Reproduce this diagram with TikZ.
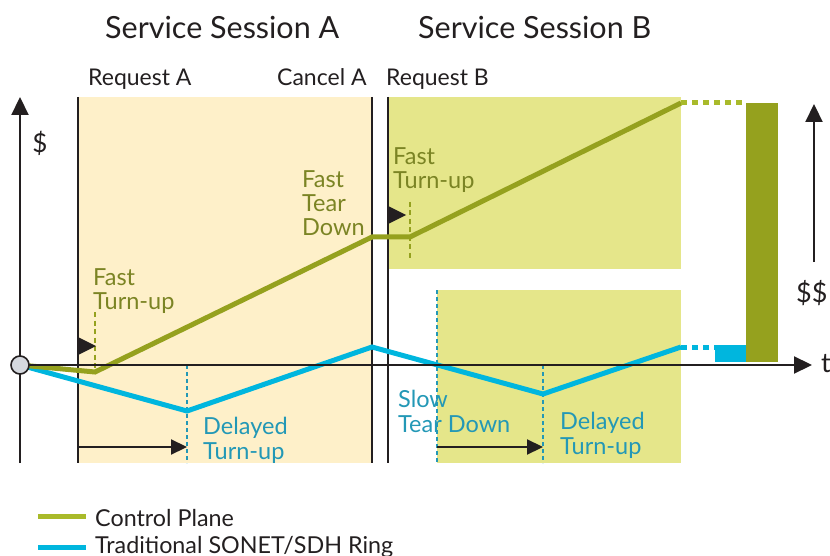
\documentclass[tikz,border=0pt]{standalone}
\usepackage{fontspec}
\setmainfont{Lato}
\usetikzlibrary{arrows.meta}

\definecolor{sessionA}{HTML}{FEF0C9}
\definecolor{sessionB}{HTML}{E5E68A}
\definecolor{cpline}{HTML}{95A11E}
\definecolor{cpdot}{HTML}{A9BA2A}
\definecolor{cptext}{HTML}{7B8424}
\definecolor{ringline}{HTML}{00B6DE}
\definecolor{ringtext}{HTML}{2398B6}
\definecolor{axisgray}{HTML}{231F20}
\definecolor{dotfill}{HTML}{D5D8DE}

\tikzset{
  axisline/.style={draw=axisgray, line width=2.2pt},
  eventline/.style={draw=axisgray, line width=2pt},
  bigtip/.style={-{Triangle[length=18pt,width=17pt]}},
  midtip/.style={-{Triangle[length=16pt,width=15pt]}},
  cpcurve/.style={draw=cpline, line width=5pt, line join=miter},
  ringcurve/.style={draw=ringline, line width=5pt, line join=miter},
  cpmark/.style={draw=cpline, line width=2.2pt, dash pattern=on 5pt off 3.5pt},
  ringmark/.style={draw=ringtext, line width=2.6pt, dash pattern=on 4pt off 3pt},
  title/.style={font=\fontsize{30.5}{34}\selectfont, text=axisgray, inner sep=0pt, anchor=base west},
  eventlabel/.style={font=\fontsize{23}{27}\selectfont, text=axisgray, inner sep=0pt, anchor=base west},
  cplabel/.style={font=\fontsize{23.5}{24}\selectfont, text=cptext, inner sep=0pt, anchor=base west, align=left},
  ringlabel/.style={font=\fontsize{23.5}{24.5}\selectfont, text=ringtext, inner sep=0pt, anchor=base west, align=left},
  legendtext/.style={font=\fontsize{23.3}{28}\selectfont, text=axisgray, inner sep=0pt, anchor=base west},
  marker/.style={fill=axisgray},
}

\begin{document}
\begin{tikzpicture}[x=1pt,y=-1pt]
\useasboundingbox (0,0) rectangle (830,556);

% session backgrounds
\fill[sessionA] (78,97) rectangle (372,463);
\fill[sessionB] (388,97) rectangle (681,269);
\fill[sessionB] (437,290) rectangle (681,463);

% headings
\node[title] (sessA) at (105,39) {Service Session A};
\node[title] (sessB) at (418,39) {Service Session B};
\node[eventlabel] (reqA) at (88,86) {Request A};
\node[eventlabel] (canA) at (277,86) {Cancel A};
\node[eventlabel] (reqB) at (386,86) {Request B};

% event boundaries
\coordinate (reqAtop) at (78,97);   \coordinate (reqAbot) at (78,463);
\coordinate (canAtop) at (372,97);  \coordinate (canAbot) at (372,463);
\coordinate (reqBtop) at (388,97);  \coordinate (reqBbot) at (388,463);
\draw[eventline] (reqAtop) -- (reqAbot);
\draw[eventline] (canAtop) -- (canAbot);
\draw[eventline] (reqBtop) -- (reqBbot);

% axes
\coordinate (ybot) at (20,463);
\coordinate (ytop) at (20,97);
\coordinate (xend) at (812,365);
\draw[axisline, bigtip] (ybot) -- (ytop);
\node[font=\fontsize{26}{30}\selectfont, text=axisgray, inner sep=0pt] (dollar) at (40,143) {\$};

% dashed event markers
\coordinate (m1top) at (95,312);  \coordinate (m1bot) at (95,373);
\coordinate (m2top) at (410,202); \coordinate (m2bot) at (410,258);
\draw[cpmark] (m1top) -- (m1bot);
\draw[cpmark] (m2top) -- (m2bot);
\coordinate (r1top) at (187,365); \coordinate (r1bot) at (187,463);
\coordinate (r2top) at (437,290); \coordinate (r2bot) at (437,463);
\coordinate (r3top) at (543,365); \coordinate (r3bot) at (543,463);
\draw[ringmark] (r1top) -- (r1bot);
\draw[ringmark] (r2top) -- (r2bot);
\draw[ringmark] (r3top) -- (r3bot);

% turn-up triangles
\fill[marker] (78,337) -- (78,355) -- (96,346) -- cycle;
\fill[marker] (388,206) -- (388,224) -- (406,215) -- cycle;

% delay arrows
\coordinate (d1s) at (78,447);  \coordinate (d1e) at (187,447);
\coordinate (d2s) at (437,447); \coordinate (d2e) at (543,447);
\draw[axisline, midtip] (d1s) -- (d1e);
\draw[axisline, midtip] (d2s) -- (d2e);

% cost curves
\coordinate (o) at (20,365);
\coordinate (c1) at (95,372);
\coordinate (c2) at (372,237);
\coordinate (c3) at (410,237);
\coordinate (c4) at (681,103);
\coordinate (c5) at (746,103);
\coordinate (s1) at (187,411);
\coordinate (s2) at (372,347);
\coordinate (s3) at (543,394);
\coordinate (s4) at (681,347);
\coordinate (s5) at (715,347);

\draw[ringcurve] (o) -- (s1) -- (s2) -- (s3) -- (s4);
\draw[cpcurve] (o) -- (c1) -- (c2) -- (c3) -- (c4);

% x axis on top of the curves
\draw[axisline, bigtip] (o) -- (xend);
\node[font=\fontsize{27}{30}\selectfont, text=axisgray, inner sep=0pt, anchor=west] (tlabel) at (821,364) {t};

% projected totals
\draw[draw=cpdot, line width=5pt, dash pattern=on 6pt off 5pt] (c4) -- (c5);
\draw[draw=ringline, line width=5pt, dash pattern=on 6pt off 5pt] (s4) -- (s5);
\fill[ringline] (715,345) rectangle (746,362);
\fill[cpline] (746,103) rectangle (778,362);

% cost scale
\coordinate (sbot) at (814,262);
\coordinate (stop) at (814,104);
\draw[axisline, bigtip] (sbot) -- (stop);
\node[font=\fontsize{27}{30}\selectfont, text=axisgray, inner sep=0pt, anchor=west] (ddollar) at (796,293) {\$\$};

% origin
\node[circle, draw=axisgray, line width=1.6pt, fill=dotfill, minimum size=18pt, inner sep=0pt] (origin) at (o) {};

% annotations (anchored at the baseline of the last line)
\node[cplabel] (ftu1) at (93,309) {Fast\\Turn-up};
\node[cplabel] (ftd) at (302,236) {Fast\\Tear\\Down};
\node[cplabel] (ftu2) at (393,189) {Fast\\Turn-up};
\node[ringlabel] (dtu1) at (203,459) {Delayed\\Turn-up};
\node[ringlabel] (std) at (398,432) {Slow\\Tear Down};
\node[ringlabel] (dtu2) at (560,454) {Delayed\\Turn-up};

% legend
\coordinate (lg1a) at (38,516); \coordinate (lg1b) at (86,516);
\coordinate (lg2a) at (38,547); \coordinate (lg2b) at (86,547);
\draw[draw=cpdot, line width=5pt] (lg1a) -- (lg1b);
\draw[draw=ringline, line width=5pt] (lg2a) -- (lg2b);
\node[legendtext] (lgcp) at (95,526) {Control Plane};
\node[legendtext] (lgring) at (95,553) {Traditional SONET/SDH Ring};
\end{tikzpicture}
\end{document}
